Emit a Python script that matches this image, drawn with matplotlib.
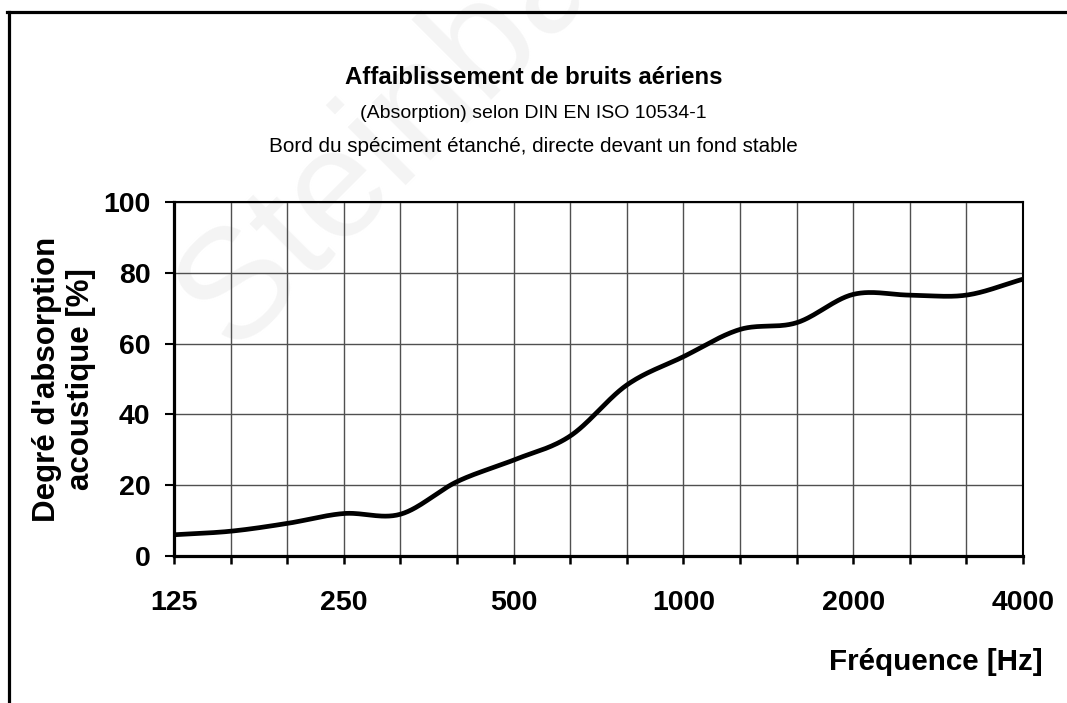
import numpy as np
import matplotlib
matplotlib.use("Agg")
import matplotlib.pyplot as plt
from matplotlib.lines import Line2D

# ---- data ----
freq_bands = ["125", "160", "200", "250", "315", "400", "500", "630", "800",
              "1000", "1250", "1600", "2000", "2500", "3150", "4000"]
absorption = [6.0, 7.0, 9.2, 12.0, 11.8, 21.0, 27.1, 33.9, 48.3,
              56.3, 64.0, 65.9, 73.9, 73.7, 73.7, 78.2]
labeled_bands = ["125", "250", "500", "1000", "2000", "4000"]
y_ticks = [0, 20, 40, 60, 80, 100]

title = "Affaiblissement de bruits aériens"
subtitle1 = "(Absorption) selon DIN EN ISO 10534-1"
subtitle2 = "Bord du spéciment étanché, directe devant un fond stable"
ylabel = "Degré d'absorption\nacoustique [%]"
xlabel = "Fréquence [Hz]"
watermark = "Steinbach"

plt.rcParams['font.family'] = ['Liberation Sans', 'DejaVu Sans']

W, H = 1067, 703
fig = plt.figure(figsize=(W / 100, H / 100), dpi=100)
fig.patch.set_facecolor('white')

# watermark (drawn beneath everything else)
fig.text(232 / W, 1 - 352 / H, watermark, fontsize=112, color='#f4f4f4',
         rotation=45, rotation_mode='anchor', ha='left', va='baseline', zorder=-5)

# frame
fig.add_artist(Line2D([7 / W, 1.0], [1 - 11.5 / H, 1 - 11.5 / H], color='black', lw=2.3,
                      transform=fig.transFigure))
fig.add_artist(Line2D([8.5 / W, 8.5 / W], [0, 1 - 11.5 / H], color='black', lw=2.3,
                      transform=fig.transFigure))

ax = fig.add_axes([174 / W, 1 - 556 / H, (1023 - 174) / W, (556 - 202) / H])
ax.set_facecolor('none')
ax.set_zorder(1)

x = np.arange(len(freq_bands))
y = np.array(absorption)

# Catmull-Rom smoothing (like spreadsheet smoothed line)
def catmull_rom(xp, yp, n=30):
    px = np.concatenate([[2 * xp[0] - xp[1]], xp, [2 * xp[-1] - xp[-2]]])
    py = np.concatenate([[2 * yp[0] - yp[1]], yp, [2 * yp[-1] - yp[-2]]])
    xs, ys = [], []
    t = np.linspace(0, 1, n, endpoint=False)
    for i in range(1, len(px) - 2):
        p0, p1, p2, p3 = py[i - 1], py[i], py[i + 1], py[i + 2]
        m1 = (p2 - p0) / 2
        m2 = (p3 - p1) / 2
        h00 = 2 * t**3 - 3 * t**2 + 1
        h10 = t**3 - 2 * t**2 + t
        h01 = -2 * t**3 + 3 * t**2
        h11 = t**3 - t**2
        ys.append(h00 * p1 + h10 * m1 + h01 * p2 + h11 * m2)
        xs.append(px[i] + t * (px[i + 1] - px[i]))
    xs.append([xp[-1]])
    ys.append([yp[-1]])
    return np.concatenate(xs), np.concatenate(ys)

sx, sy = catmull_rom(x.astype(float), y)
ax.plot(sx, sy, color='black', lw=3.4, solid_capstyle='butt', zorder=3, clip_on=False)

ax.set_xlim(0, len(freq_bands) - 1)
ax.set_ylim(0, 100)
ax.set_xticks(x)
ax.set_xticklabels([f if f in labeled_bands else "" for f in freq_bands])
ax.set_yticks(y_ticks)

ax.grid(True, color='#505050', lw=1.0, zorder=1)
ax.set_axisbelow(True)

for s in ['left', 'bottom']:
    ax.spines[s].set_linewidth(2.3)
for s in ['top', 'right']:
    ax.spines[s].set_linewidth(1.5)

ax.tick_params(axis='y', direction='out', length=6.5, width=1.5, pad=10.5,
               labelsize=20.5)
ax.tick_params(axis='x', direction='out', length=6, width=1.8, pad=18.5,
               labelsize=20.5)
for lab in ax.get_xticklabels() + ax.get_yticklabels():
    lab.set_fontweight('bold')

fig.text(0.5, 1 - 77 / H, title, ha='center', va='center', fontsize=17.3,
         fontweight='bold')
fig.text(0.5, 1 - 113 / H, subtitle1, ha='center', va='center', fontsize=14)
fig.text(0.5, 1 - 146 / H, subtitle2, ha='center', va='center', fontsize=14.9)

fig.text(64 / W, 1 - 379 / H, ylabel, ha='center', va='center', rotation=90,
         fontsize=22.5, fontweight='bold', linespacing=1.2)
fig.text(1043 / W, 1 - 662 / H, xlabel, ha='right', va='center', fontsize=21.3,
         fontweight='bold')

fig.savefig("out.png", dpi=100)
